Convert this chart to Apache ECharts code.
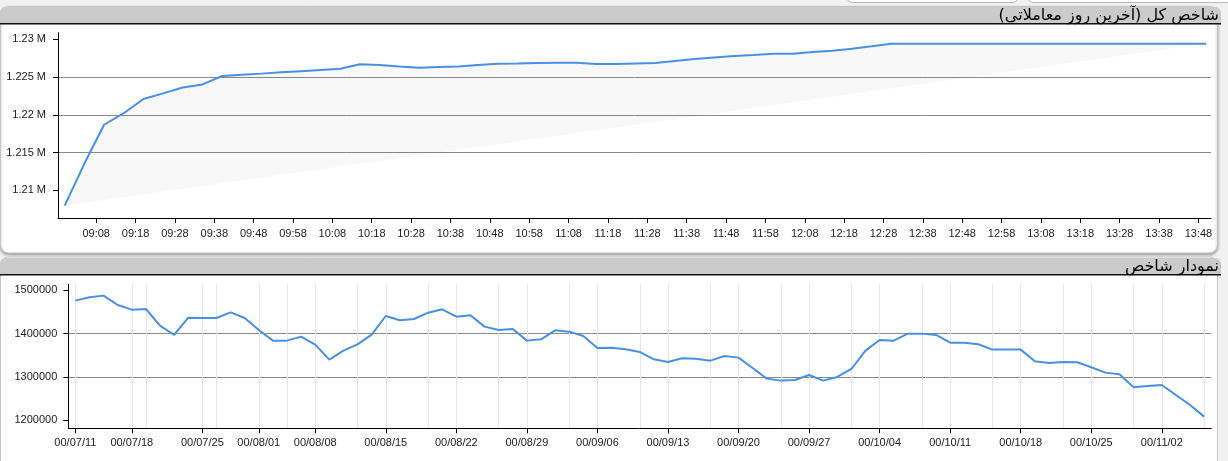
<!DOCTYPE html>
<html><head><meta charset="utf-8">
<script src="https://cdn.jsdelivr.net/npm/echarts@6/dist/echarts.min.js"></script>
<style>html,body{margin:0;padding:0;background:#f1f1f1;overflow:hidden}#c{width:1228px;height:461px}</style>
</head><body><div id="c"></div>
<script>
// ---------- top chart: intraday index ----------
const intradayTimes = ['09:00','09:05','09:10','09:15','09:20','09:25','09:30','09:35','09:40','09:45','09:50','09:55',
  '10:00','10:05','10:10','10:15','10:20','10:25','10:30','10:35','10:40','10:45','10:50','10:55',
  '11:00','11:05','11:10','11:15','11:20','11:25','11:30','11:35','11:40','11:45','11:50','11:55',
  '12:00','12:05','12:10','12:15','12:20','12:25','12:30','12:35','12:40','12:45','12:50','12:55',
  '13:00','13:05','13:10','13:15','13:20','13:25','13:30','13:35','13:40','13:45','13:50'];
const intradayValues = [1207960,1213540,1218680,1220210,1222090,1222830,1223620,1224020,1225130,1225290,1225450,1225620,
  1225780,1225940,1226100,1226700,1226590,1226400,1226230,1226320,1226400,1226590,1226760,1226800,
  1226850,1226890,1226890,1226720,1226720,1226800,1226850,1227120,1227380,1227600,1227780,1227910,
  1228070,1228090,1228320,1228490,1228750,1229070,1229420,1229420,1229420,1229420,1229420,1229420,
  1229420,1229420,1229420,1229420,1229420,1229420,1229420,1229420,1229420,1229420,1229420];
const intradayTickLabels = ['09:08','09:18','09:28','09:38','09:48','09:58','10:08','10:18','10:28','10:38','10:48','10:58',
  '11:08','11:18','11:28','11:38','11:48','11:58','12:08','12:18','12:28','12:38','12:48','12:58',
  '13:08','13:18','13:28','13:38','13:48'];
const intradayYTicks = [1210000,1215000,1220000,1225000,1230000];

// ---------- bottom chart: daily index ----------
const dailyDates = ['00/07/11','00/07/12','00/07/13','00/07/14','00/07/18','00/07/19','00/07/20','00/07/21','00/07/24',
  '00/07/25','00/07/26','00/07/27','00/07/28','00/08/01','00/08/02','00/08/03','00/08/04',
  '00/08/08','00/08/09','00/08/10','00/08/11','00/08/12','00/08/15','00/08/16','00/08/17','00/08/18','00/08/19',
  '00/08/22','00/08/23','00/08/24','00/08/25','00/08/26','00/08/29','00/08/30','00/09/01','00/09/02','00/09/03',
  '00/09/06','00/09/07','00/09/08','00/09/09','00/09/10','00/09/13','00/09/14','00/09/15','00/09/16','00/09/17',
  '00/09/20','00/09/21','00/09/22','00/09/23','00/09/24','00/09/27','00/09/28','00/09/29','00/09/30','00/10/01',
  '00/10/04','00/10/05','00/10/06','00/10/07','00/10/08','00/10/11','00/10/12','00/10/13','00/10/14','00/10/15',
  '00/10/18','00/10/19','00/10/20','00/10/21','00/10/22','00/10/25','00/10/26','00/10/27','00/10/28','00/10/29',
  '00/11/02','00/11/03','00/11/04','00/11/05'];
const dailyValues = [1476100,1483800,1487700,1466100,1455300,1456800,1418300,1396700,1436800,
  1436000,1436000,1449100,1436000,1408300,1383600,1383600,1392800,
  1374300,1339600,1360400,1375100,1397500,1440600,1430600,1433700,1448300,1456000,
  1439100,1442200,1416000,1408300,1410600,1383600,1386700,1407500,1404400,1394400,
  1366600,1367400,1363500,1357400,1340400,1334200,1342700,1341900,1337300,1348100,
  1344300,1320400,1295700,1291100,1292600,1304200,1291100,1299600,1318000,1360400,
  1385100,1383600,1399800,1399800,1396700,1378900,1378900,1375100,1362800,1362800,
  1362800,1335800,1331900,1334200,1333500,1321900,1309600,1305700,1275600,1278700,
  1281000,1257900,1234800,1207800];
const dailyTickLabels = ['00/07/11','00/07/18','00/07/25','00/08/01','00/08/08','00/08/15','00/08/22','00/08/29',
  '00/09/06','00/09/13','00/09/20','00/09/27','00/10/04','00/10/11','00/10/18','00/10/25','00/11/02'];
const dailyGridDates = ['00/07/19','00/07/26','00/08/03','00/08/11','00/08/18','00/08/25','00/09/02','00/09/09',
  '00/09/16','00/09/23','00/09/30','00/10/07','00/10/14','00/10/21','00/10/28','00/11/05'];
const dailyYTicks = [1200000,1300000,1400000,1500000];

const topTitle = 'شاخص کل (آخرین روز معاملاتی)';
const bottomTitle = 'نمودار شاخص';

const toMin = s => { const p = s.split(':'); return (+p[0]) * 60 + (+p[1]); };
const pad = n => (n < 10 ? '0' : '') + n;
const fmtMin = m => pad(Math.floor(Math.round(m) / 60)) + ':' + pad(Math.round(m) % 60);
const intradayData = intradayTimes.map((t, i) => [toMin(t), intradayValues[i]]);
const intradayTickMins = intradayTickLabels.map(toMin);
const labelSet = new Set(dailyTickLabels);
const gridSet = new Set(dailyTickLabels.concat(dailyGridDates));

const lblFont = { fontFamily: 'Liberation Sans', fontSize: 11, color: '#222' };
const axisBlack = { show: true, lineStyle: { color: '#000', width: 1 } };
const tickBlack = { show: true, length: 5, lineStyle: { color: '#000', width: 1 } };

const chart = echarts.init(document.getElementById('c'), null, { renderer: 'canvas' });
chart.setOption({
  backgroundColor: '#f1f1f1',
  animation: false,
  graphic: [
    { type: 'rect', z: -20, shape: { x: 846.5, y: -10, width: 172, height: 12.5, r: 6 }, style: { fill: '#fff', stroke: '#b8b8b8', lineWidth: 1 } },
    { type: 'rect', z: -20, shape: { x: 1027.5, y: -10, width: 220, height: 12.5, r: 6 }, style: { fill: '#fff', stroke: '#b8b8b8', lineWidth: 1 } },
    { type: 'rect', z: -20, shape: { x: 0.5, y: 6.5, width: 1217, height: 246.5, r: 8 }, style: { fill: '#fff', stroke: '#c4c4c4', lineWidth: 1, shadowBlur: 3, shadowOffsetY: 1.5, shadowColor: 'rgba(0,0,0,0.35)' } },
    { type: 'rect', z: -19, shape: { x: 0, y: 7, width: 1221, height: 16.5, r: [6, 6, 0, 0] }, style: { fill: '#cbcbcb' } },
    { type: 'rect', z: -19, shape: { x: 0, y: 23, width: 1221, height: 1.6 }, style: { fill: '#111' } },
    { type: 'text', z: -18, style: { text: topTitle + '\u200F', x: 1219, y: 15.5, align: 'right', verticalAlign: 'middle', font: '16px "DejaVu Sans"', fill: '#000' } },
    { type: 'rect', z: -20, shape: { x: 0.5, y: 257, width: 1217, height: 240, r: 8 }, style: { fill: '#fff', stroke: '#c4c4c4', lineWidth: 1 } },
    { type: 'rect', z: -19, shape: { x: 0, y: 258, width: 1221, height: 16.3, r: [6, 6, 0, 0] }, style: { fill: '#cbcbcb' } },
    { type: 'rect', z: -19, shape: { x: 0, y: 274, width: 1221, height: 1.6 }, style: { fill: '#111' } },
    { type: 'text', z: -18, style: { text: bottomTitle + '\u200F', x: 1219, y: 266.5, align: 'right', verticalAlign: 'middle', font: '16px "DejaVu Sans"', fill: '#000' } }
  ],
  grid: [
    { left: 58, top: 32.7, width: 1153, height: 185.3, containLabel: false, outerBoundsMode: 'none' },
    { left: 68.3, top: 284.3, width: 1142.9, height: 144, containLabel: false, outerBoundsMode: 'none' }
  ],
  xAxis: [
    { gridIndex: 0, type: 'value', min: 538.3, max: 831.2,
      axisLine: axisBlack, axisTick: Object.assign({ customValues: intradayTickMins }, tickBlack),
      axisLabel: Object.assign({ customValues: intradayTickMins, formatter: v => fmtMin(v), margin: 10 }, lblFont),
      splitLine: { show: false } },
    { gridIndex: 1, type: 'category', data: dailyDates, boundaryGap: true,
      axisLine: axisBlack,
      axisTick: Object.assign({ alignWithLabel: true, interval: (i, v) => labelSet.has(v) }, tickBlack),
      axisLabel: Object.assign({ interval: (i, v) => labelSet.has(v), margin: 9 }, lblFont),
      splitLine: { show: true, alignWithLabel: true, interval: (i, v) => gridSet.has(v), lineStyle: { color: '#e6e6e6', width: 1 } } }
  ],
  yAxis: [
    { gridIndex: 0, type: 'value', min: 1206330, max: 1230870, splitNumber: 5,
      axisLine: axisBlack, axisTick: Object.assign({ customValues: intradayYTicks }, tickBlack),
      axisLabel: Object.assign({ customValues: intradayYTicks, formatter: v => (v / 1e6) + ' M', margin: 12 }, lblFont),
      splitLine: { show: true, showMinLine: false, showMaxLine: false, lineStyle: { color: '#8a8a8a', width: 1 } } },
    { gridIndex: 1, type: 'value', min: 1180800, max: 1513900, splitNumber: 3,
      axisLine: axisBlack, axisTick: Object.assign({ customValues: dailyYTicks }, tickBlack),
      axisLabel: Object.assign({ customValues: dailyYTicks, formatter: v => String(v), margin: 11 }, lblFont),
      splitLine: { show: true, showMinLine: false, showMaxLine: false, lineStyle: { color: '#8a8a8a', width: 1 } } }
  ],
  series: [
    { type: 'custom', xAxisIndex: 0, yAxisIndex: 0, data: [0], silent: true, z: 1,
      renderItem: (params, api) => ({
        type: 'polygon',
        shape: { points: intradayData.map(d => api.coord(d)) },
        style: { fill: 'rgba(0,0,0,0.028)' }
      }) },
    { type: 'line', xAxisIndex: 0, yAxisIndex: 0, data: intradayData, showSymbol: false, z: 3,
      lineStyle: { color: '#4a90e2', width: 2 } },
    { type: 'line', xAxisIndex: 1, yAxisIndex: 1, data: dailyValues, showSymbol: false, z: 3,
      lineStyle: { color: '#4a90e2', width: 2 } }
  ]
});
</script></body></html>
